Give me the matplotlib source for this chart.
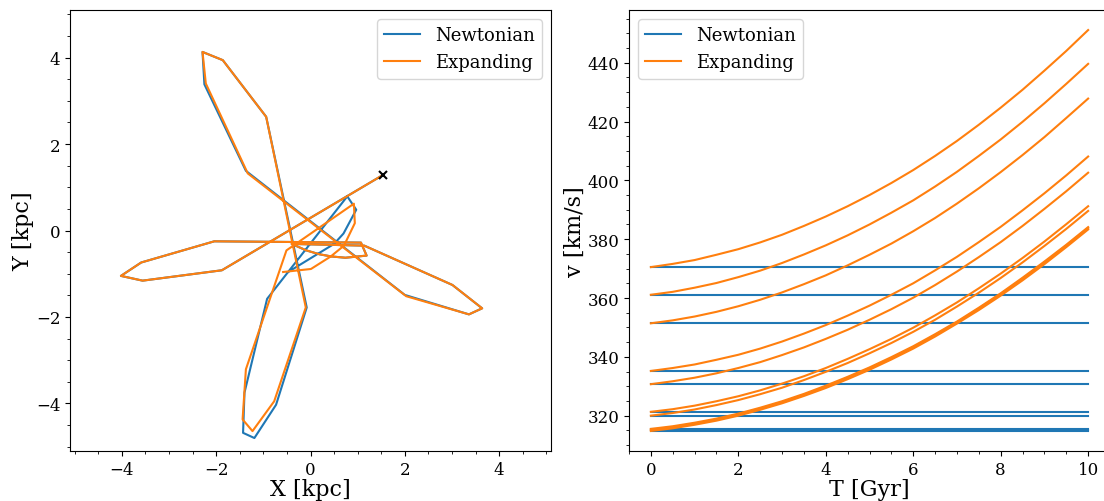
"""Orbit of a test star (left) and speed vs time (right), Newtonian vs expanding."""

import matplotlib
matplotlib.use('Agg')
import matplotlib.pyplot as plt
import numpy as np

plt.rcParams.update({
    'font.family': 'serif',
    'font.serif': ['DejaVu Serif'],
    'xtick.labelsize': 12,
    'ytick.labelsize': 12,
    'axes.labelsize': 16,
    'legend.fontsize': 13,
})

# ---- left panel: orbit in the plane (kpc) ----
start_xy = (1.53, 1.28)

newton_x = [1.53, -1.88, -3.56, -4.02, -3.59, -2.04, 1.07, 1.19, 0.74, 0.44, 0.19, -0.09,
            -0.40, 1.14, 3.01, 3.64, 3.36, 2.00, -1.37, -2.25, -2.29, -1.86, -0.94, -0.08,
            -0.73, -1.19, -1.43, -1.40, -0.92, 0.78, 0.97, 0.70, 0.50, -0.49]
newton_y = [1.28, -0.92, -1.16, -1.05, -0.74, -0.25, -0.28, -0.58, -0.63, -0.60, -0.55, -0.46,
            -0.31, -0.35, -1.26, -1.80, -1.94, -1.49, 1.38, 3.38, 4.13, 3.94, 2.63, -1.78,
            -4.03, -4.80, -4.68, -3.75, -1.58, 0.79, 0.48, -0.07, -0.31, -0.97]

expand_x = [1.53, -1.88, -3.56, -4.02, -3.59, -2.04, 1.07, 1.19, 0.74, 0.44, 0.19, -0.09,
            -0.40, 1.14, 3.01, 3.64, 3.36, 2.03, -1.33, -2.22, -2.29, -1.86, -0.94, -0.10,
            -0.77, -1.23, -1.44, -1.37, -0.51, 0.92, 0.94, 0.71, 0.43, 0.01, -0.58]
expand_y = [1.28, -0.92, -1.16, -1.05, -0.74, -0.25, -0.28, -0.58, -0.63, -0.60, -0.55, -0.46,
            -0.31, -0.35, -1.26, -1.80, -1.94, -1.52, 1.32, 3.40, 4.13, 3.94, 2.63, -1.78,
            -3.95, -4.64, -4.37, -3.21, -0.46, 0.62, 0.17, -0.35, -0.60, -0.89, -0.96]

# ---- right panel: speed vs time (read every 0.5 Gyr) ----
t_gyr = [0, 0.5, 1, 1.5, 2, 2.5, 3, 3.5, 4, 4.5, 5,
         5.5, 6, 6.5, 7, 7.5, 8, 8.5, 9, 9.5, 10]

newton_v = [370.5, 361.1, 351.4, 335.2, 330.7, 321.3, 320.0, 315.5, 315.2, 314.8]

expand_v1 = [370.5, 371.6, 372.9, 374.7, 376.6, 378.9, 381.5, 384.5, 387.7, 391.2, 395.0,
             399.1, 403.5, 408.3, 413.4, 418.9, 424.7, 430.8, 437.3, 444.0, 451.1]
expand_v2 = [361.1, 362.1, 363.5, 365.1, 367.1, 369.3, 371.9, 374.8, 377.9, 381.3, 385.0,
             389.0, 393.2, 397.9, 402.9, 408.3, 413.9, 419.9, 426.2, 432.8, 439.6]
expand_v3 = [351.4, 352.4, 353.7, 355.3, 357.2, 359.4, 361.9, 364.7, 367.7, 371.1, 374.7,
             378.5, 382.7, 387.2, 392.1, 397.3, 402.8, 408.6, 414.7, 421.2, 427.8]
expand_v4 = [335.2, 336.2, 337.4, 339.0, 340.7, 342.8, 345.2, 347.9, 350.8, 354.0, 357.4,
             361.1, 365.0, 369.4, 374.0, 379.0, 384.2, 389.8, 395.6, 401.7, 408.1]
expand_v5 = [330.7, 331.7, 332.9, 334.4, 336.2, 338.2, 340.6, 343.2, 346.1, 349.2, 352.6,
             356.2, 360.1, 364.4, 369.0, 373.9, 379.0, 384.5, 390.3, 396.3, 402.6]
expand_v6 = [321.3, 322.2, 323.4, 324.9, 326.6, 328.6, 330.9, 333.4, 336.2, 339.3, 342.6,
             346.1, 349.9, 354.1, 358.5, 363.3, 368.3, 373.6, 379.2, 385.1, 391.2]
expand_v7 = [320.0, 320.9, 322.1, 323.6, 325.3, 327.3, 329.5, 332.1, 334.9, 337.9, 341.2,
             344.7, 348.5, 352.6, 357.1, 361.8, 366.8, 372.1, 377.7, 383.5, 389.6]
expand_v8 = [315.5, 316.4, 317.6, 319.0, 320.7, 322.7, 324.9, 327.4, 330.2, 333.2, 336.4,
             339.9, 343.6, 347.7, 352.0, 356.7, 361.6, 366.9, 372.4, 378.1, 384.1]
expand_v9 = [315.2, 316.1, 317.3, 318.7, 320.4, 322.4, 324.6, 327.1, 329.9, 332.9, 336.1,
             339.5, 343.3, 347.4, 351.7, 356.4, 361.3, 366.5, 372.0, 377.8, 383.8]
expand_v10 = [314.8, 315.7, 316.9, 318.3, 320.0, 322.0, 324.2, 326.7, 329.4, 332.4, 335.6,
              339.1, 342.8, 346.9, 351.3, 355.9, 360.8, 366.0, 371.5, 377.3, 383.3]
expand_curves = [expand_v1, expand_v2, expand_v3, expand_v4, expand_v5,
                 expand_v6, expand_v7, expand_v8, expand_v9, expand_v10]

BLUE = '#1f77b4'
ORANGE = '#ff7f0e'

fig = plt.figure(figsize=(11.04, 5.02), dpi=100)
W, H = 1104, 502
ax1 = fig.add_axes([70 / W, 50 / H, 481 / W, 441 / H])
ax2 = fig.add_axes([629 / W, 50 / H, 481 / W, 441 / H])

# left
ax1.plot(newton_x, newton_y, color=BLUE, lw=1.5, label='Newtonian')
ax1.plot(expand_x, expand_y, color=ORANGE, lw=1.5, label='Expanding')
ax1.plot(*start_xy, marker='x', color='black', ms=6, mew=1.5, ls='none')
ax1.set_xlim(-5.1, 5.1)
ax1.set_ylim(-5.1, 5.1)
ax1.set_xticks([-4, -2, 0, 2, 4])
ax1.set_yticks([-4, -2, 0, 2, 4])
ax1.minorticks_on()
ax1.set_xlabel('X [kpc]', labelpad=0)
ax1.set_ylabel('Y [kpc]', labelpad=1)
ax1.legend(loc='upper right')

# right
T = np.array(t_gyr)
for i, v in enumerate(newton_v):
    ax2.plot(T, np.full(len(T), v), color=BLUE, lw=1.5,
             label='Newtonian' if i == 0 else None)
for i, curve in enumerate(expand_curves):
    ax2.plot(T, curve, color=ORANGE, lw=1.5,
             label='Expanding' if i == 0 else None)
ax2.set_xticks([0, 2, 4, 6, 8, 10])
ax2.set_yticks([320, 340, 360, 380, 400, 420, 440])
ax2.minorticks_on()
ax2.set_xlabel('T [Gyr]', labelpad=0)
ax2.set_ylabel('v [km/s]', labelpad=1)
ax2.legend(loc='upper left')

fig.savefig('out.png', dpi=100)
plt.close(fig)
